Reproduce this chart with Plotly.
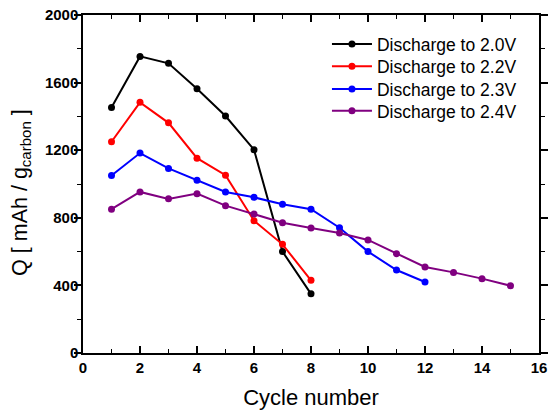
import plotly.graph_objects as go

cycles_20 = [1, 2, 3, 4, 5, 6, 7, 8]
q_20 = [1452, 1755, 1714, 1563, 1402, 1203, 600, 350]
cycles_22 = [1, 2, 3, 4, 5, 6, 7, 8]
q_22 = [1250, 1483, 1362, 1153, 1052, 783, 643, 430]
cycles_23 = [1, 2, 3, 4, 5, 6, 7, 8, 9, 10, 11, 12]
q_23 = [1050, 1183, 1092, 1022, 953, 921, 880, 851, 741, 600, 491, 420]
cycles_24 = [1, 2, 3, 4, 5, 6, 7, 8, 9, 10, 11, 12, 13, 14, 15]
q_24 = [851, 953, 912, 943, 872, 822, 771, 740, 710, 669, 588, 509, 477, 440, 398]

x_ticks = [0, 2, 4, 6, 8, 10, 12, 14, 16]
y_ticks = [0, 400, 800, 1200, 1600, 2000]

names = ["Discharge to 2.0V", "Discharge to 2.2V", "Discharge to 2.3V", "Discharge to 2.4V"]
colors = ["#000000", "#ff0000", "#0000ff", "#800080"]
series = [(cycles_20, q_20), (cycles_22, q_22), (cycles_23, q_23), (cycles_24, q_24)]
legend_ids = ["legend", "legend2", "legend3", "legend4"]
legend_y = [0.914, 0.848, 0.781, 0.716]

FONT = "Liberation Sans, Arial"

fig = go.Figure()
for (xs, ys), n, c, lg in zip(series, names, colors, legend_ids):
    fig.add_trace(go.Scatter(x=xs, y=ys, name=n, mode="lines+markers",
                             line=dict(color=c, width=2),
                             marker=dict(color=c, size=7), legend=lg))

legend_style = dict(x=0.535, xanchor="left", yanchor="middle",
                    font=dict(size=17.5, family=FONT),
                    bgcolor="rgba(0,0,0,0)", itemwidth=40)
layout_legends = {lg: dict(y=ly, **legend_style) for lg, ly in zip(legend_ids, legend_y)}

fig.update_layout(
    width=548, height=415,
    margin=dict(l=83, r=9, t=15, b=62),
    paper_bgcolor="white", plot_bgcolor="white",
    font=dict(family=FONT, color="black"),
    showlegend=True,
    **layout_legends,
)
fig.add_annotation(text="Q [ mAh / g<sub>carbon</sub> ]", textangle=-90,
                   xref="paper", yref="paper", x=-0.135, y=0.475,
                   xanchor="center", yanchor="middle", showarrow=False,
                   font=dict(size=21.5, family=FONT, color="black"))
fig.update_xaxes(range=[0, 16], tickvals=x_ticks, automargin=False,
                 ticks="inside", ticklen=7, tickwidth=1.5, tickcolor="black",
                 minor=dict(dtick=1, ticks="inside", ticklen=4, tickcolor="black", tickwidth=1),
                 showline=True, linecolor="black", linewidth=1.5, mirror="ticks",
                 showgrid=False, zeroline=False,
                 tickfont=dict(size=15, family=FONT, weight="bold"),
                 title=dict(text="Cycle number", font=dict(size=22)))
fig.update_yaxes(range=[0, 2000], tickvals=y_ticks, automargin=False,
                 ticks="outside", ticklen=7, tickwidth=1.5, tickcolor="black",
                 minor=dict(dtick=200, ticks="outside", ticklen=4, tickcolor="black", tickwidth=1),
                 showline=True, linecolor="black", linewidth=1.5, mirror="ticks",
                 showgrid=False, zeroline=False, ticklabelstandoff=-7,
                 tickfont=dict(size=15, family=FONT, weight="bold"))

fig.write_html("out.html", config={"displayModeBar": False},
               post_script="document.body.style.margin='0';")
